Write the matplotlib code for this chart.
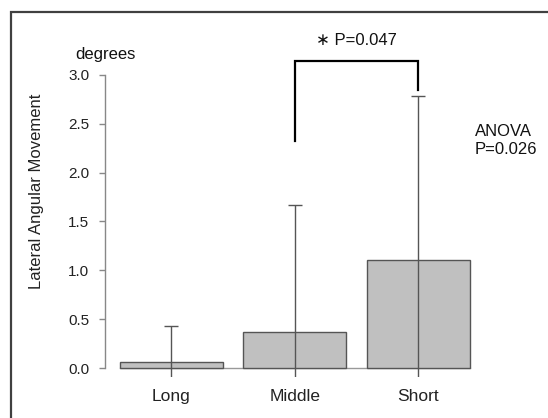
import matplotlib
matplotlib.use("Agg")
import matplotlib.pyplot as plt
from matplotlib.patches import Rectangle

plt.rcParams['font.family'] = ['Liberation Sans', 'DejaVu Sans']

categories = ["Long", "Middle", "Short"]
means = [0.065, 0.37, 1.105]
sds = [0.365, 1.30, 1.675]
yticks = [0.0, 0.5, 1.0, 1.5, 2.0, 2.5, 3.0]
ytick_labels = ["0.0", "0.5", "1.0", "1.5", "2.0", "2.5", "3.0"]
bracket_y = [2.32, 3.14, 2.85]
p_pair = "P=0.047"
anova_lines = ["ANOVA", "P=0.026"]

W, H = 548, 418
fig = plt.figure(figsize=(W / 100, H / 100), dpi=100)

left_px, right_px = 105, 505
top_px, bot_px = 63.2, 376.8
ax = fig.add_axes([left_px / W, 1 - bot_px / H, (right_px - left_px) / W, (bot_px - top_px) / H])

x = [0.7, 1.9, 3.1]
width = 1.0
ax.bar(x, means, width=width, color="#c0c0c0", edgecolor="#555555", linewidth=1.0, zorder=2)
ax.errorbar(x, means, yerr=sds, fmt="none", ecolor="#555555", elinewidth=1.0,
            capsize=4.7, capthick=1.0, zorder=3)
ax.plot([x[0] - width / 2, x[-1] + width / 2], [0, 0], color="#999999", lw=1.0, zorder=1)

ax.set_xlim(0.056, 3.944)
ax.set_ylim(-0.09, 3.12)

for s in ["top", "right", "bottom"]:
    ax.spines[s].set_visible(False)
ax.spines["left"].set_bounds(0, 3)
ax.spines["left"].set_color("#888888")
ax.spines["left"].set_linewidth(1.0)
ax.set_yticks(yticks)
ax.set_yticklabels(ytick_labels, fontsize=11, color="#222222")
ax.tick_params(axis="y", length=4.3, width=1.0, color="#888888", pad=7)
ax.set_xticks(x)
ax.set_xticklabels(categories, fontsize=12.5, color="#222222")
ax.tick_params(axis="x", length=0, pad=9)

ax.set_ylabel("Lateral Angular Movement", fontsize=12, color="#222222", va="center")
ax.yaxis.set_label_coords((37 - left_px) / (right_px - left_px), 1 - (191 - top_px) / (bot_px - top_px))

ax.plot([x[1], x[1], x[2], x[2]], [bracket_y[0], bracket_y[1], bracket_y[1], bracket_y[2]],
        color="black", lw=1.6, clip_on=False, solid_joinstyle="miter", zorder=4)
ax.text((x[1] + x[2]) / 2, 3.35, "\u2217 " + p_pair, ha="center", va="center",
        fontsize=12, color="#111111", clip_on=False)

fig.text(105 / W, 1 - 55 / H, "degrees", ha="center", va="center", fontsize=12, color="#111111")
fig.text(475 / W, 1 - 131 / H, anova_lines[0], ha="left", va="center", fontsize=12, color="#111111")
fig.text(475 / W, 1 - 150 / H, anova_lines[1], ha="left", va="center", fontsize=12, color="#111111")

fig.add_artist(Rectangle((11 / W, -0.2), 1.2, 1 - 12 / H + 0.2, transform=fig.transFigure,
                         fill=False, edgecolor="#404040", linewidth=1.6))

fig.savefig("out.png", dpi=100)
